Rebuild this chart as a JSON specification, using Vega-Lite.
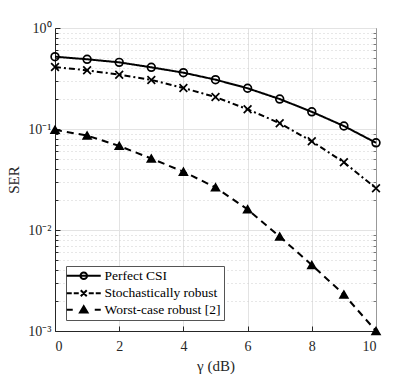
{
  "$schema": "https://vega.github.io/schema/vega-lite/v6.json",
  "width": 321,
  "height": 303,
  "autosize": {"type": "none"},
  "padding": {"left": 55, "top": 28, "right": 39, "bottom": 46},
  "background": "white",
  "data": {
    "values": [
      {"x": 0, "y": 0.52, "series": "Perfect CSI"},
      {"x": 1, "y": 0.49, "series": "Perfect CSI"},
      {"x": 2, "y": 0.457, "series": "Perfect CSI"},
      {"x": 3, "y": 0.408, "series": "Perfect CSI"},
      {"x": 4, "y": 0.361, "series": "Perfect CSI"},
      {"x": 5, "y": 0.308, "series": "Perfect CSI"},
      {"x": 6, "y": 0.253, "series": "Perfect CSI"},
      {"x": 7, "y": 0.198, "series": "Perfect CSI"},
      {"x": 8, "y": 0.148, "series": "Perfect CSI"},
      {"x": 9, "y": 0.107, "series": "Perfect CSI"},
      {"x": 10, "y": 0.073, "series": "Perfect CSI"},
      {"x": 0, "y": 0.411, "series": "Stochastically robust"},
      {"x": 1, "y": 0.381, "series": "Stochastically robust"},
      {"x": 2, "y": 0.345, "series": "Stochastically robust"},
      {"x": 3, "y": 0.306, "series": "Stochastically robust"},
      {"x": 4, "y": 0.255, "series": "Stochastically robust"},
      {"x": 5, "y": 0.207, "series": "Stochastically robust"},
      {"x": 6, "y": 0.157, "series": "Stochastically robust"},
      {"x": 7, "y": 0.114, "series": "Stochastically robust"},
      {"x": 8, "y": 0.0755, "series": "Stochastically robust"},
      {"x": 9, "y": 0.0468, "series": "Stochastically robust"},
      {"x": 10, "y": 0.0259, "series": "Stochastically robust"},
      {"x": 0, "y": 0.098, "series": "Worst-case robust [2]"},
      {"x": 1, "y": 0.086, "series": "Worst-case robust [2]"},
      {"x": 2, "y": 0.068, "series": "Worst-case robust [2]"},
      {"x": 3, "y": 0.051, "series": "Worst-case robust [2]"},
      {"x": 4, "y": 0.0378, "series": "Worst-case robust [2]"},
      {"x": 5, "y": 0.0264, "series": "Worst-case robust [2]"},
      {"x": 6, "y": 0.016, "series": "Worst-case robust [2]"},
      {"x": 7, "y": 0.0086, "series": "Worst-case robust [2]"},
      {"x": 8, "y": 0.0045, "series": "Worst-case robust [2]"},
      {"x": 9, "y": 0.0023, "series": "Worst-case robust [2]"},
      {"x": 10, "y": 0.001, "series": "Worst-case robust [2]"}
    ]
  },
  "layer": [
    {
      "mark": {"type": "line", "color": "black", "strokeWidth": 2},
      "encoding": {
        "x": {"field": "x", "type": "quantitative", "scale": {"domain": [0, 10], "nice": false, "zero": false},
              "axis": {"values": [0, 2, 4, 6, 8, 10], "title": "γ (dB)", "tickSize": -5, "labelPadding": 13, "titlePadding": 5}},
        "y": {"field": "y", "type": "quantitative", "scale": {"type": "log", "domain": [0.001, 1], "nice": false},
              "axis": {"orient": "left", "values": [0.001, 0.01, 0.1, 1], "title": "SER", "tickSize": -5, "labelPadding": 9, "titlePadding": 6,
                       "labelExpr": "datum.value >= 0.5 ? '10⁰' : datum.value >= 0.05 ? '10⁻¹' : datum.value >= 0.005 ? '10⁻²' : '10⁻³'"}},
        "detail": {"field": "series"},
        "strokeDash": {"field": "series", "type": "nominal",
                       "scale": {"domain": ["Perfect CSI", "Stochastically robust", "Worst-case robust [2]"], "range": [[1, 0], [6, 3, 2, 3], [7, 5]]},
                       "legend": null}
      }
    },
    {
      "mark": {"type": "point", "filled": true, "stroke": "black", "strokeWidth": 1.7, "opacity": 1},
      "encoding": {
        "x": {"field": "x", "type": "quantitative"},
        "y": {"field": "y", "type": "quantitative",
              "axis": {"orient": "right", "values": [0.002, 0.003, 0.004, 0.005, 0.006, 0.007, 0.008, 0.009, 0.02, 0.03, 0.04, 0.05, 0.06, 0.07, 0.08, 0.09, 0.2, 0.3, 0.4, 0.5, 0.6, 0.7, 0.8, 0.9],
                       "labels": false, "title": null, "tickSize": -3, "grid": true, "gridDash": [1, 3], "gridColor": "#cfcfcf", "domainColor": "#999999", "tickColor": "#777777"}},
        "shape": {"field": "series", "type": "nominal",
                  "scale": {"domain": ["Perfect CSI", "Stochastically robust", "Worst-case robust [2]"], "range": ["circle", "M-1,-1L1,1M-1,1L1,-1", "triangle-up"]},
                  "legend": null},
        "fill": {"field": "series", "type": "nominal",
                 "scale": {"domain": ["Perfect CSI", "Stochastically robust", "Worst-case robust [2]"], "range": ["transparent", "transparent", "black"]},
                 "legend": null},
        "size": {"value": 60}
      }
    },
    {
      "transform": [{"filter": "datum.x < 0"}],
      "mark": {"type": "point", "filled": true, "strokeWidth": 2, "opacity": 1},
      "encoding": {
        "x": {"field": "x", "type": "quantitative"},
        "y": {"field": "y", "type": "quantitative",
              "axis": {"orient": "left", "values": [0.002, 0.003, 0.004, 0.005, 0.006, 0.007, 0.008, 0.009, 0.02, 0.03, 0.04, 0.05, 0.06, 0.07, 0.08, 0.09, 0.2, 0.3, 0.4, 0.5, 0.6, 0.7, 0.8, 0.9],
                       "labels": false, "title": null, "tickSize": -3, "grid": false, "domain": false}},
        "fill": {"field": "series", "type": "nominal",
                 "scale": {"domain": ["Perfect CSI", "Stochastically robust", "Worst-case robust [2]"], "range": ["transparent", "transparent", "black"]}},
        "stroke": {"field": "series", "type": "nominal",
                 "scale": {"domain": ["Perfect CSI", "Stochastically robust", "Worst-case robust [2]"], "range": ["black", "black", "black"]}},
        "shape": {"field": "series", "type": "nominal",
                  "scale": {"domain": ["Perfect CSI", "Stochastically robust", "Worst-case robust [2]"],
                            "range": [
                              "M-3.4,0H3.4M0.66,0A0.66,0.66,0,1,1,-0.66,0A0.66,0.66,0,1,1,0.66,0",
                              "M-3.4,0H-2.4M-2,0H-1M1,0H2M2.4,0H3.4M-0.6,-0.6L0.6,0.6M-0.6,0.6L0.6,-0.6",
                              "M-3.4,0H-2.2M2.2,0H3.4M0,-0.7L0.75,0.55L-0.75,0.55Z"
                            ]},
                  "legend": {
                    "title": null,
                    "orient": "bottom-left",
                    "offset": 11,
                    "padding": 3,
                    "rowPadding": 1.5,
                    "symbolSize": 100,
                    "symbolOffset": 8,
                    "labelOffset": 14,
                    "symbolStrokeWidth": 2,
                    "labelFont": "Liberation Serif",
                    "labelFontSize": 13.5,
                    "labelColor": "black",
                    "strokeColor": "#555555",
                    "fillColor": "white",
                    "cornerRadius": 0,
                    "labelLimit": 300
                  }}
      }
    }
  ],
  "resolve": {"scale": {"shape": "independent", "fill": "independent", "stroke": "independent"}, "axis": {"y": "independent"}},
  "config": {
    "font": "Liberation Serif",
    "view": {"stroke": "#262626", "strokeWidth": 1},
    "legend": {"labelFont": "Liberation Serif"},
    "axis": {
      "labelFont": "Liberation Serif",
      "titleFont": "Liberation Serif",
      "labelFontSize": 14,
      "titleFontSize": 15,
      "titleFontWeight": "normal",
      "labelColor": "#262626",
      "titleColor": "#262626",
      "domainColor": "#262626",
      "tickColor": "#262626",
      "gridColor": "#e3e3e3",
      "grid": true
    }
  }
}
